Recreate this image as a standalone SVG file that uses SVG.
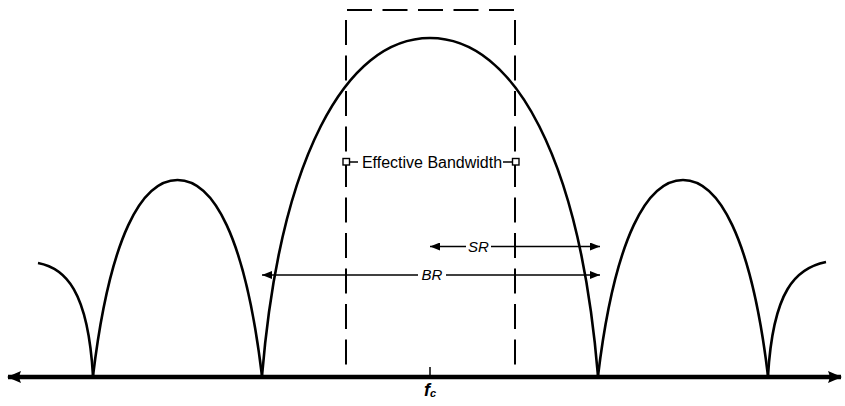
<svg xmlns="http://www.w3.org/2000/svg" width="845" height="406" viewBox="0 0 845 406">
<style>
.lobe{fill:none;stroke:#000;stroke-width:2.6}
.dash{fill:none;stroke:#000;stroke-width:2;stroke-dasharray:25 10.5}
.dim{fill:none;stroke:#000;stroke-width:1.5}
.lbl{font-family:"Liberation Sans",Arial,sans-serif;fill:#000}
</style>
<defs>
<marker id="ah" viewBox="0 0 10 8" refX="10" refY="4" markerWidth="10" markerHeight="8" markerUnits="userSpaceOnUse" orient="auto-start-reverse">
<path d="M0,0 L10,4 L0,8 Z" fill="#000"/>
</marker>
<marker id="axh" viewBox="0 0 14 12" refX="13" refY="6" markerWidth="14" markerHeight="12" markerUnits="userSpaceOnUse" orient="auto-start-reverse">
<path d="M0,0 L14,6 L0,12 Q3,6 0,0 Z" fill="#000"/>
</marker>
</defs>
<rect width="845" height="406" fill="#fff"/>
<g id="axis">
<line x1="8" y1="377" x2="841" y2="377" stroke="#000" stroke-width="4.5" marker-start="url(#axh)" marker-end="url(#axh)"/>
<line x1="430" y1="367" x2="430" y2="376" stroke="#000" stroke-width="1.5"/>
<text class="lbl" x="424" y="396" font-size="18" font-weight="bold" font-style="italic">f<tspan font-size="11" dy="1">c</tspan></text>
</g>
<g id="lobes">
<path class="lobe" d="M38,263 C65,268 88,290 93,376"/>
<path class="lobe" d="M93,376 C110,235 142,180 177.5,180 C213,180 245,235 262,376"/>
<path class="lobe" d="M262,376 C280,160 345,38 430,38 C515,38 580,160 598,376"/>
<path class="lobe" d="M598,376 C615,235 648,180 683,180 C718,180 751,235 768,376"/>
<path class="lobe" d="M768,376 C773,290 796,268 826,262"/>
</g>
<g id="effective-bandwidth">
<line class="dash" x1="347" y1="10" x2="516" y2="10"/>
<line class="dash" x1="346" y1="20" x2="346" y2="376"/>
<line class="dash" x1="515" y1="20" x2="515" y2="376"/>
<rect x="343" y="158.5" width="6.5" height="6.5" fill="#fff" stroke="#000" stroke-width="1.4"/>
<rect x="512.5" y="158.5" width="6.5" height="6.5" fill="#fff" stroke="#000" stroke-width="1.4"/>
<line class="dim" x1="350" y1="162" x2="358" y2="162"/>
<line class="dim" x1="503" y1="162" x2="512" y2="162"/>
<text class="lbl" x="432" y="168" font-size="16" text-anchor="middle">Effective Bandwidth</text>
</g>
<g id="connectors">
<line class="dim" x1="430" y1="246.5" x2="466" y2="246.5" marker-start="url(#ah)"/>
<line class="dim" x1="491" y1="246.5" x2="600" y2="246.5" marker-end="url(#ah)"/>
<line class="dim" x1="262" y1="275" x2="418" y2="275" marker-start="url(#ah)"/>
<line class="dim" x1="446" y1="275" x2="600" y2="275" marker-end="url(#ah)"/>
</g>
<g id="sr-label"><text class="lbl" x="478.5" y="252" font-size="15" font-style="italic" text-anchor="middle">SR</text></g>
<g id="br-label"><text class="lbl" x="432" y="280" font-size="15" font-style="italic" text-anchor="middle">BR</text></g>
</svg>
